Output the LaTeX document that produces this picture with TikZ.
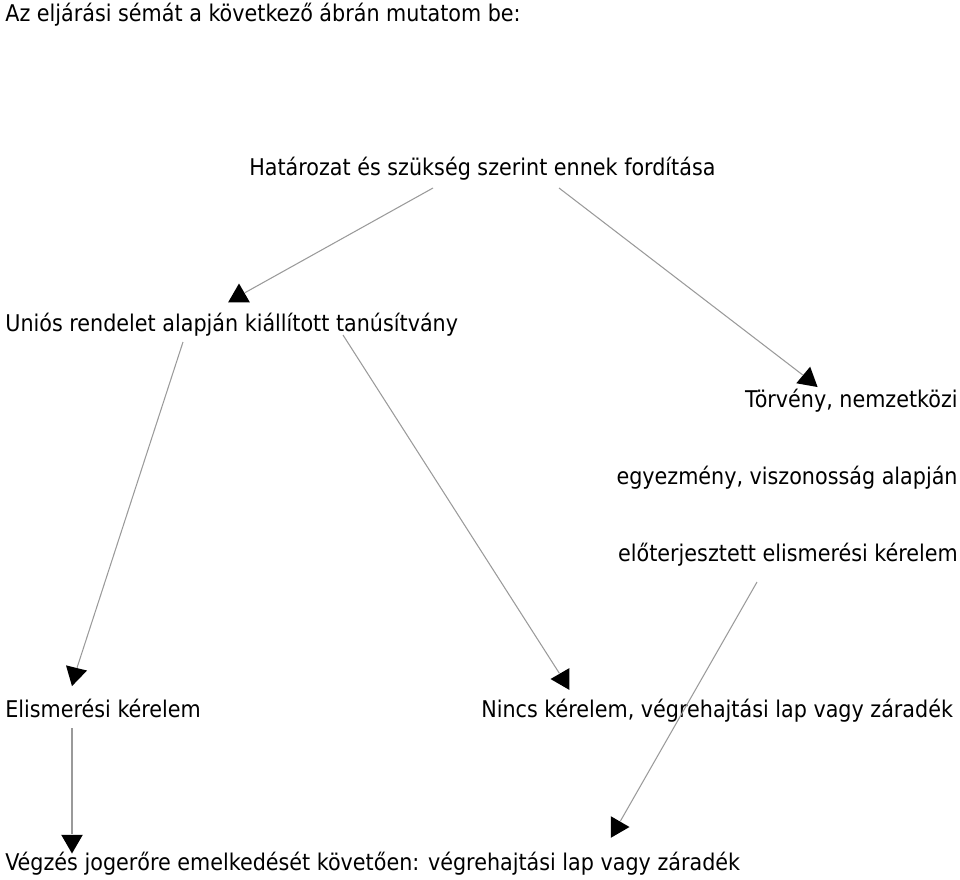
\documentclass[tikz,border=0pt]{standalone}
\usepackage{fontspec}
\setmainfont{DejaVu Sans Condensed}
\usetikzlibrary{shapes.geometric}
\definecolor{line}{HTML}{9A9A9A}
\tikzset{
  lab/.style={inner sep=0pt, font=\fontsize{13.1}{15.5}\selectfont},
  link/.style={draw=line, line width=0.6pt},
  tip/.style={regular polygon, regular polygon sides=3, fill=black, inner sep=0pt, minimum size=0.5cm},
}
\begin{document}
\begin{tikzpicture}[x=0.02cm,y=-0.02cm]
  \useasboundingbox (0,0) rectangle (960,879);
  % texts
  \node[lab,anchor=base west] (intro) at (5,21) {Az eljárási sémát a következő ábrán mutatom be:};
  \node[lab,anchor=base west] (hat) at (249,175) {Határozat és szükség szerint ennek fordítása};
  \node[lab,anchor=base west] (unio) at (5,331) {Uniós rendelet alapján kiállított tanúsítvány};
  \node[lab,anchor=base east] (torv1) at (958,407) {Törvény, nemzetközi};
  \node[lab,anchor=base east] (torv2) at (958,484) {egyezmény, viszonosság alapján};
  \node[lab,anchor=base east] (torv3) at (958,561) {előterjesztett elismerési kérelem};
  \node[lab,anchor=base west] (elism) at (5,717) {Elismerési kérelem};
  \node[lab,anchor=base west] (nincs) at (481,717) {Nincs kérelem, végrehajtási lap vagy záradék};
  \node[lab,anchor=base west] (vegz) at (5,870) {Végzés jogerőre emelkedését követően: végrehajtási lap vagy záradék};
  % arrow heads
  \node[tip] (t1) at (239,296) {};
  \node[tip,rotate=-10] (t2) at (808,379) {};
  \node[tip,rotate=166] (t3) at (75,674) {};
  \node[tip,rotate=90] (t4) at (563,679) {};
  \node[tip,rotate=-90] (t5) at (617,827) {};
  \node[tip,rotate=180] (t6) at (72,841) {};
  % line starts
  \coordinate (s1) at (433,188);
  \coordinate (s2) at (559,188);
  \coordinate (s3) at (183,342);
  \coordinate (s4) at (343,335);
  \coordinate (s5) at (757,582);
  \coordinate (s6) at (72,728);
  \foreach \a/\b in {s1/t1,s2/t2,s3/t3,s4/t4,s5/t5,s6/t6}
    \draw[link] (\a) -- (\b);
\end{tikzpicture}
\end{document}
